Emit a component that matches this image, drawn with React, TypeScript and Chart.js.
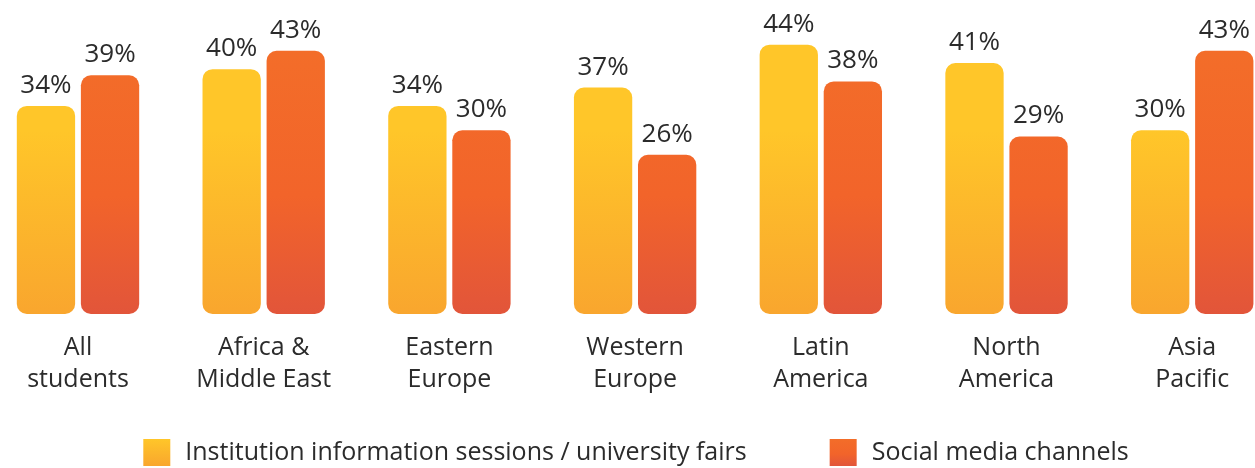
import React, { useEffect, useRef } from "react";
import { Chart, registerables } from "chart.js";

Chart.register(...registerables);

const categories: string[][] = [
  ["All", "students"],
  ["Africa &", "Middle East"],
  ["Eastern", "Europe"],
  ["Western", "Europe"],
  ["Latin", "America"],
  ["North", "America"],
  ["Asia", "Pacific"],
];
const seriesNames = ["Institution information sessions / university fairs", "Social media channels"];
const institutionValues = [34, 40, 34, 37, 44, 41, 30];
const socialValues = [39, 43, 30, 26, 38, 29, 43];

const FONT = "'Open Sans', sans-serif";
const TEXT = "#2b2b2b";
const grads: [number, string][][] = [
  [[0, "#FFC629"], [1, "#F9A62E"]],
  [[0, "#F36D29"], [0.55, "#F2642A"], [1, "#E2553A"]],
];

const gradientPlugin = {
  id: "barGradient",
  beforeDatasetsDraw(chart: any) {
    const ctx = chart.ctx;
    chart.data.datasets.forEach((_: any, di: number) => {
      const meta = chart.getDatasetMeta(di);
      meta.data.forEach((el: any) => {
        const g = ctx.createLinearGradient(0, el.y, 0, el.base);
        grads[di].forEach(([o, c]) => g.addColorStop(o, c));
        el.options.backgroundColor = g;
      });
    });
  },
};

const labelPlugin = {
  id: "valueLabels",
  afterDatasetsDraw(chart: any) {
    const ctx = chart.ctx;
    ctx.save();
    ctx.font = `26px ${FONT}`;
    ctx.fillStyle = TEXT;
    ctx.textAlign = "center";
    ctx.textBaseline = "alphabetic";
    chart.data.datasets.forEach((ds: any, di: number) => {
      const meta = chart.getDatasetMeta(di);
      meta.data.forEach((el: any, i: number) => {
        ctx.fillText(`${ds.data[i].y}%`, el.x, el.y - 13);
      });
    });
    ctx.restore();
  },
};

const legendPlugin = {
  id: "customLegend",
  afterDraw(chart: any) {
    const ctx = chart.ctx;
    ctx.save();
    ctx.font = `25px ${FONT}`;
    ctx.textBaseline = "middle";
    const box = 27;
    const gapText = 15;
    const gapItems = 83;
    const widths = seriesNames.map((n) => box + gapText + ctx.measureText(n).width);
    const total = widths[0] + gapItems + widths[1];
    let x = 636 - total / 2;
    const yTop = 439;
    seriesNames.forEach((n, i) => {
      const g = ctx.createLinearGradient(0, yTop, 0, yTop + box);
      grads[i].forEach(([o, c]) => g.addColorStop(o, c));
      ctx.fillStyle = g;
      ctx.fillRect(x, yTop, box, box);
      ctx.fillStyle = TEXT;
      ctx.fillText(n, x + box + gapText, yTop + 14);
      x += widths[i] + gapItems;
    });
    ctx.restore();
  },
};

export default function App() {
  const ref = useRef<HTMLCanvasElement>(null);
  useEffect(() => {
    document.body.style.margin = "0";
    const chart = new Chart(ref.current!, {
      type: "bar",
      data: {
        datasets: [
          {
            label: seriesNames[0],
            data: institutionValues.map((v, i) => ({ x: i, y: v })),
            backgroundColor: "#FCB82B",
            borderRadius: 10,
            borderSkipped: false,
          },
          {
            label: seriesNames[1],
            data: socialValues.map((v, i) => ({ x: i, y: v })),
            backgroundColor: "#F2642A",
            borderRadius: 10,
            borderSkipped: false,
          },
        ] as any,
      },
      options: {
        animation: false,
        responsive: false,
        layout: { padding: { left: 0, right: 0, top: 0, bottom: 62 } },
        datasets: { bar: { categoryPercentage: 0.69, barPercentage: 0.91 } } as any,
        plugins: { legend: { display: false }, tooltip: { enabled: false } },
        scales: {
          x: {
            type: "linear",
            offset: false,
            min: -0.42,
            max: 6.338,
            grid: { display: false, offset: false },
            border: { display: false },
            afterBuildTicks: (scale: any) => {
              scale.ticks = categories.map((_, i) => ({ value: i }));
            },
            ticks: {
              autoSkip: false,
              maxRotation: 0,
              padding: 10,
              color: TEXT,
              font: { family: FONT, size: 25, lineHeight: 1.28 },
              callback: (v: any) => categories[v as number],
            },
          },
          y: { display: false, min: 0, max: 51.3 },
        },
      } as any,
      plugins: [gradientPlugin, labelPlugin, legendPlugin],
    });
    return () => chart.destroy();
  }, []);
  return (
    <div style={{ width: 1255, height: 468 }}>
      <canvas ref={ref} width={1255} height={468} />
    </div>
  );
}
